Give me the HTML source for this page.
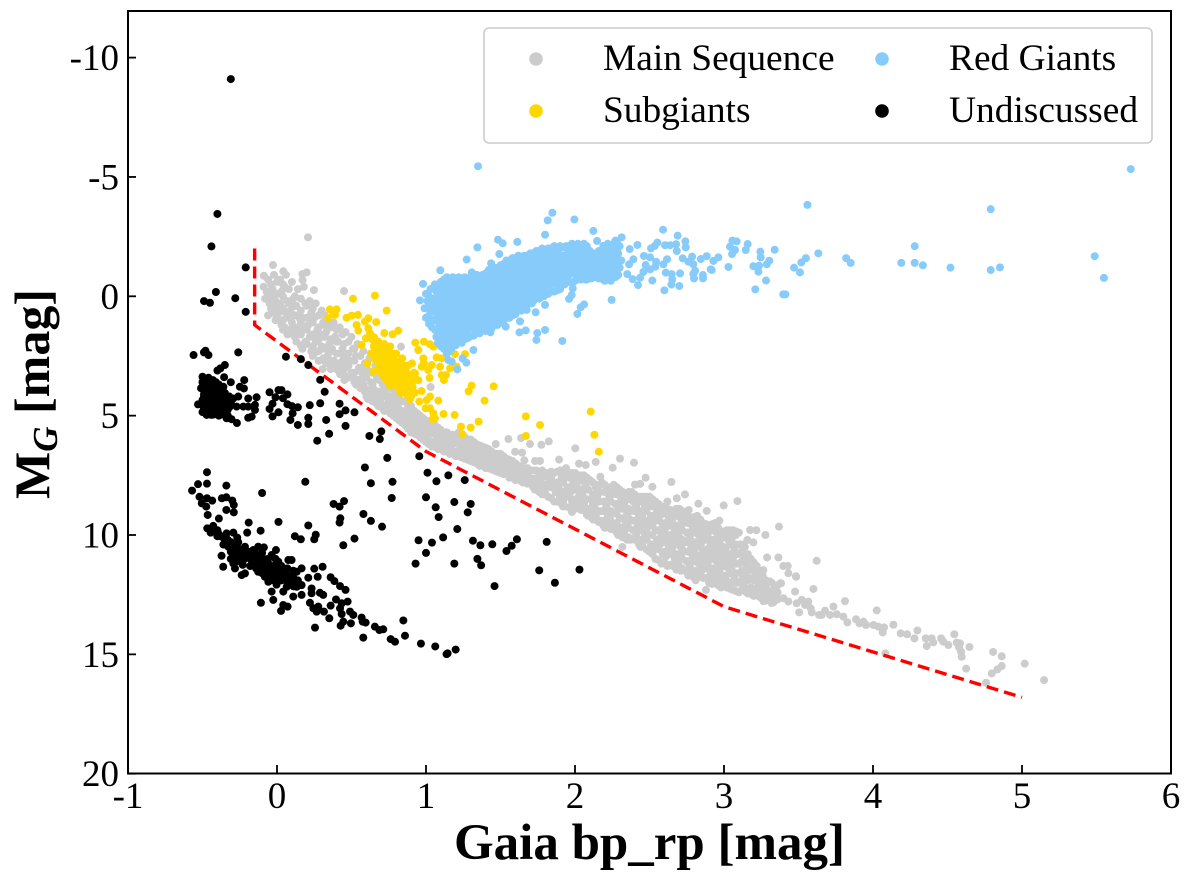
<!DOCTYPE html>
<html lang="en">
<head>
<meta charset="utf-8">
<title>Gaia colour-magnitude diagram</title>
<style>
html,body{margin:0;padding:0;background:#fff;width:1200px;height:883px;overflow:hidden}
svg{display:block}
text{font-family:"Liberation Serif","DejaVu Serif",serif;fill:#000}
</style>
</head>
<body>
<svg id="chart" width="1200" height="883" viewBox="0 0 1200 883" xmlns="http://www.w3.org/2000/svg">
<rect x="0" y="0" width="1200" height="883" fill="#fff"/>
<g id="marks-grey"></g>
<g id="marks-gold"></g>
<g id="marks-blue"></g>
<path id="cut-line" fill="none" stroke="#ff0000" stroke-width="3.4" stroke-dasharray="12,6"/>
<g id="marks-black"></g>
<rect x="128" y="11" width="1043" height="762.5" fill="none" stroke="#000" stroke-width="2"/>
<g id="ticks"></g>
<text x="649.5" y="859" text-anchor="middle" font-weight="bold" font-size="51">Gaia bp_rp [mag]</text>
<text transform="translate(49,394) rotate(-90)" text-anchor="middle" font-weight="bold" font-size="50">M<tspan font-style="italic" font-size="35" dy="8">G</tspan><tspan dy="-8"> [mag]</tspan></text>
<g>
<rect x="484" y="28" width="668" height="115" rx="5" ry="5" fill="#fff" fill-opacity="0.8" stroke="#ccc" stroke-width="1.6"/>
<circle cx="536" cy="59" r="6.8" fill="#cccccc"/>
<text x="603" y="70" font-size="37.4">Main Sequence</text>
<circle cx="536" cy="111" r="6.8" fill="#ffd700"/>
<text x="603" y="122" font-size="37.4">Subgiants</text>
<circle cx="882" cy="59" r="6.8" fill="#87cbfa"/>
<text x="949" y="70" font-size="37.4">Red Giants</text>
<circle cx="882" cy="111" r="6.8" fill="#000"/>
<text x="949" y="122" font-size="37.4">Undiscussed</text>
</g>
</svg>
<script>
const xTickValues=[-1,0,1,2,3,4,5,6];
const xTickLabels=["-1","0","1","2","3","4","5","6"];
const yTickValues=[-10,-5,0,5,10,15,20];
const yTickLabels=["-10","-5","0","5","10","15","20"];
const cutLineColour=[-0.15,-0.15,1,3,5];
const cutLineMag=[-2,1.2,6.5,13,16.8];

const mainSequence=[
[-0.09,-0.4],[-0.08,0.1],[-0.06,-0.7],[-0.07,-0.2],[-0.05,0.3],[-0.06,0.8],[-0.02,-0.9],[-0.03,-0.3],[-0.01,0.2],[-0.02,0.7],[-0.01,1.0],
[0.02,-0.7],[0.03,-0.2],[0.02,0.3],[0.01,0.7],[0.03,1.2],[0.06,-0.9],[0.05,-0.4],[0.07,0.2],[0.06,0.7],[0.05,1.3],[0.07,1.6],
[0.1,-0.6],[0.11,0.1],[0.09,0.6],[0.1,1.1],[0.11,1.6],[0.14,-0.3],[0.13,0.4],[0.15,0.9],[0.14,1.4],[0.13,1.9],[0.18,-0.4],[0.19,0.3],[0.17,0.9],[0.18,1.3],[0.19,1.9],[0.17,2.2],
[0.22,0.2],[0.23,0.7],[0.21,1.2],[0.22,1.7],[0.23,2.3],[0.26,0.3],[0.25,0.9],[0.27,1.4],[0.26,1.9],[0.25,2.4],[0.3,0.6],[0.31,1.1],[0.29,1.6],[0.3,2.1],[0.31,2.6],
[0.34,1.0],[0.33,1.5],[0.35,2.0],[0.34,2.5],[0.33,2.8],[0.38,1.1],[0.39,1.7],[0.37,2.2],[0.38,2.7],[0.39,3.0],[0.42,1.3],[0.41,1.9],[0.43,2.4],[0.42,2.9],[0.41,3.1],
[0.46,1.5],[0.45,2.0],[0.47,2.5],[0.46,3.0],[0.45,3.3],[0.5,1.7],[0.51,2.2],[0.49,2.7],[0.5,3.2],[0.51,3.4],[0.54,2.0],[0.53,2.5],[0.55,3.0],[0.54,3.5],[0.53,3.7],
[0.58,2.3],[0.59,2.8],[0.57,3.2],[0.58,3.7],[0.59,4.0],[0.62,2.6],[0.61,3.1],[0.63,3.6],[0.62,4.0],[0.61,4.3],[0.66,2.9],[0.67,3.4],[0.65,3.9],[0.66,4.3],[0.67,4.5],
[0.7,3.3],[0.71,3.7],[0.69,4.1],[0.7,4.5],[0.71,4.7],[0.74,3.6],[0.73,4.0],[0.75,4.4],[0.74,4.8],[0.78,3.9],[0.79,4.3],[0.77,4.7],[0.78,5.0],[0.82,4.2],[0.81,4.6],[0.83,5.0],[0.82,5.2],
[0.86,4.4],[0.87,4.8],[0.85,5.1],[0.86,5.4],[0.9,4.6],[0.89,5.0],[0.91,5.4],[0.9,5.7],[0.94,4.9],[0.95,5.2],[0.93,5.5],[0.94,5.8],[0.98,5.1],[0.97,5.4],[0.99,5.7],[0.98,6.0],
[1.02,5.3],[1.03,5.6],[1.01,5.9],[1.02,6.2],[1.06,5.4],[1.05,5.7],[1.07,6.0],[1.06,6.3],[1.1,5.6],[1.11,5.9],[1.09,6.2],[1.1,6.4],[1.14,5.7],[1.13,6.0],[1.15,6.3],[1.14,6.5],
[1.18,5.8],[1.19,6.1],[1.17,6.4],[1.18,6.6],[1.22,5.7],[1.21,6.0],[1.23,6.3],[1.22,6.7],[1.26,5.9],[1.27,6.2],[1.25,6.5],[1.26,6.8],[1.3,6.0],[1.29,6.3],[1.31,6.6],[1.3,6.9],
[1.34,6.2],[1.35,6.5],[1.33,6.8],[1.34,7.0],[1.38,6.3],[1.37,6.6],[1.39,6.9],[1.38,7.1],[1.42,6.4],[1.43,6.7],[1.41,7.0],[1.42,7.2],[1.46,6.6],[1.45,6.9],[1.47,7.1],[1.46,7.3],
[1.5,6.6],[1.51,6.9],[1.49,7.2],[1.5,7.4],[1.54,6.8],[1.53,7.1],[1.55,7.4],[1.58,6.9],[1.59,7.2],[1.57,7.5],[1.58,7.6],[1.62,7.1],[1.61,7.4],[1.63,7.7],[1.66,7.2],[1.67,7.5],[1.65,7.8],
[1.7,7.3],[1.69,7.6],[1.71,7.9],[1.74,7.3],[1.75,7.7],[1.73,8.1],[1.78,7.3],[1.77,7.7],[1.79,8.1],[1.78,8.3],[1.82,7.4],[1.83,7.7],[1.81,8.0],[1.82,8.4],[1.86,7.4],[1.85,7.8],[1.87,8.2],[1.86,8.6],
[1.9,7.3],[1.91,7.6],[1.89,8.0],[1.9,8.4],[1.91,8.7],[1.94,7.2],[1.93,7.6],[1.95,8.0],[1.94,8.4],[1.93,8.8],[1.98,7.4],[1.99,7.8],[1.97,8.2],[1.98,8.6],[1.99,8.9],
[2.02,7.5],[2.01,7.9],[2.03,8.3],[2.02,8.7],[2.06,7.5],[2.07,7.9],[2.05,8.3],[2.06,8.7],[2.07,9.0],[2.1,7.7],[2.09,8.1],[2.11,8.5],[2.1,8.9],[2.09,9.2],[2.14,8.0],[2.15,8.4],[2.13,8.8],[2.14,9.2],[2.15,9.4],
[2.18,7.8],[2.17,8.2],[2.19,8.6],[2.18,9.0],[2.17,9.4],[2.19,9.6],[2.22,8.0],[2.23,8.4],[2.21,8.8],[2.22,9.2],[2.23,9.6],[2.26,7.9],[2.25,8.3],[2.27,8.7],[2.26,9.1],[2.25,9.5],[2.27,9.8],
[2.3,8.1],[2.31,8.5],[2.29,8.9],[2.3,9.3],[2.31,9.7],[2.29,10.0],[2.34,8.3],[2.33,8.7],[2.35,9.1],[2.34,9.5],[2.33,9.9],[2.35,10.2],[2.38,8.2],[2.39,8.6],[2.37,9.0],[2.38,9.4],[2.39,9.8],[2.37,10.2],
[2.42,8.4],[2.41,8.8],[2.43,9.2],[2.42,9.6],[2.41,10.0],[2.43,10.4],[2.46,8.4],[2.47,8.8],[2.45,9.2],[2.46,9.6],[2.47,10.0],[2.45,10.4],[2.5,8.4],[2.49,8.8],[2.51,9.2],[2.5,9.6],[2.49,10.0],[2.51,10.4],[2.5,10.7],
[2.54,8.6],[2.55,9.0],[2.53,9.4],[2.54,9.8],[2.55,10.2],[2.53,10.6],[2.54,11.0],[2.58,8.8],[2.57,9.2],[2.59,9.6],[2.58,10.0],[2.57,10.4],[2.59,10.8],[2.58,11.2],[2.62,8.9],[2.63,9.3],[2.61,9.7],[2.62,10.1],[2.63,10.5],[2.61,10.9],[2.62,11.3],
[2.66,9.0],[2.65,9.4],[2.67,9.8],[2.66,10.2],[2.65,10.6],[2.67,11.0],[2.66,11.3],[2.7,8.9],[2.71,9.3],[2.69,9.7],[2.7,10.1],[2.71,10.5],[2.69,10.9],[2.7,11.3],[2.71,11.5],[2.74,9.1],[2.73,9.5],[2.75,9.9],[2.74,10.3],[2.73,10.7],[2.75,11.1],[2.74,11.5],
[2.78,9.3],[2.79,9.7],[2.77,10.1],[2.78,10.5],[2.79,10.9],[2.77,11.3],[2.78,11.7],[2.82,9.2],[2.81,9.6],[2.83,10.0],[2.82,10.4],[2.81,10.8],[2.83,11.2],[2.82,11.6],[2.81,11.9],[2.86,9.5],[2.87,9.9],[2.85,10.3],[2.86,10.7],[2.87,11.1],[2.85,11.5],[2.86,11.8],
[2.9,9.6],[2.89,10.0],[2.91,10.4],[2.9,10.8],[2.89,11.2],[2.91,11.6],[2.9,12.0],[2.94,9.5],[2.95,9.9],[2.93,10.3],[2.94,10.7],[2.95,11.1],[2.93,11.5],[2.94,11.9],[2.98,9.9],[2.97,10.3],[2.99,10.7],[2.98,11.1],[2.97,11.5],[2.99,11.9],[2.98,12.2],
[3.02,9.8],[3.03,10.2],[3.01,10.6],[3.02,11.0],[3.03,11.4],[3.01,11.8],[3.02,12.2],[3.06,9.8],[3.05,10.2],[3.07,10.6],[3.06,11.0],[3.05,11.4],[3.07,11.8],[3.06,12.3],[3.1,9.9],[3.11,10.4],[3.09,10.8],[3.1,11.2],[3.11,11.6],[3.09,12.0],[3.1,12.4],
[3.14,10.5],[3.13,10.9],[3.15,11.3],[3.14,11.7],[3.13,12.1],[3.15,12.4],[3.18,11.0],[3.19,11.4],[3.17,11.8],[3.18,12.2],[3.19,12.5],[3.22,11.3],[3.21,11.7],[3.23,12.1],[3.22,12.5],[3.26,11.7],[3.25,12.1],[3.27,12.5],[3.26,12.7],
[0.208,-2.47],[-0.027,-1.31],[0.042,-1.05],[-0.088,-0.86],[0.199,-1.0],[0.17,-0.93],[0.172,-0.68],[0.45,-0.22],[0.248,-0.26],[0.832,2.11],[1.031,3.8],[0.306,3.05],[0.423,3.26],[0.452,3.51],
[1.468,6.19],[1.553,5.98],[1.638,5.94],[1.698,6.19],[1.774,6.22],[1.824,6.08],[1.598,6.51],[1.645,6.55],[1.66,6.87],[1.732,6.9],[1.765,6.9],[1.893,6.84],[2.002,6.37],[2.027,7.01],[2.072,7.07],[2.139,6.94],[2.302,6.8],[2.396,6.97],[2.253,7.18],[2.17,7.56],[2.474,7.6],[2.647,7.78],[2.519,7.98],[2.403,7.89],[2.437,7.86],[2.738,8.3],[2.683,8.46],[2.62,8.6],[2.828,8.69],[3.09,8.58],[2.998,8.76],[2.884,8.99],[2.763,8.95],[2.969,9.4],[3.369,9.65],[3.175,9.79],[3.217,9.8],[3.278,10.0],[3.157,10.21],[3.197,10.31],[3.289,10.94],[3.365,10.94],[3.622,11.08],[3.398,11.3],[3.428,11.3],[3.432,11.6],[3.483,11.73],[3.271,11.86],[3.309,11.95],[3.38,12.02],[3.477,12.37],[3.6,12.26],[2.879,12.3],[1.98,9.04],[2.318,10.5],[3.638,13.35],
[3.269,11.88],[3.305,11.95],[3.383,12.02],[3.484,11.75],[3.264,11.47],[3.253,12.23],[3.287,12.3],[3.331,12.3],[3.264,12.77],[3.331,12.82],[3.3,12.44],[3.354,12.44],[3.399,12.65],[3.432,12.79],[3.488,12.86],[3.522,12.72],[3.566,12.79],[3.544,12.93],[3.504,13.24],[3.589,13.24],[3.582,13.07],
[3.812,12.77],[3.734,13.0],[4.025,13.16],[3.678,13.17],[3.656,13.35],[3.712,13.35],[3.757,13.32],[3.801,13.42],[3.828,13.66],[3.886,13.53],[3.909,13.7],[3.936,13.63],[3.953,13.77],[4.003,13.77],[4.036,13.84],[4.074,13.87],[4.065,14.08],[4.137,13.76],[4.186,14.12],[4.229,14.16],[4.278,14.33],[4.298,14.0],[4.354,14.33],[4.394,14.33],[4.361,14.65],[4.405,14.5],[4.457,14.33],[4.472,14.47],[4.506,14.61],[4.546,14.16],[4.562,14.51],[4.584,14.54],[4.578,14.71],[4.647,14.69],[4.591,14.89],[4.595,15.1],[4.625,15.6],[4.806,14.9],[4.864,15.08],[5.018,15.39],[5.148,16.08],[4.864,15.49],[4.835,15.63],[4.797,15.8],[4.759,16.19],[4.083,14.96]
];

/* Dense-core stars: each row is one colour followed by the magnitudes read at that colour. */
const mainSequenceCoreRows=[
[-0.04,-0.5,0,0.5],[0,-0.6,-0.1,0.4,0.9],[0.04,-0.5,0,0.5,1,1.4],[0.08,-0.3,0.3,0.9,1.4],[0.12,0,0.4,0.8,1.3,1.7],[0.16,0.1,0.6,1.1,1.6,2.05],[0.2,0.4,0.9,1.4,2],[0.24,0.5,1.1,1.6,2.1,2.5],[0.28,0.8,1.3,1.8,2.3,2.7],[0.32,0.8,1.2,1.7,2.2,2.7],
[0.36,1.3,1.8,2.3,2.8,3.05],[0.4,1.4,1.9,2.4,2.8,3.05],[0.44,1.6,2.2,2.7,3.2],[0.48,1.9,2.4,2.9,3.4],[0.52,2.2,2.7,3.2,3.6],[0.56,2.5,3,3.5,3.85],[0.6,2.9,3.4,3.9,4.2],[0.64,3.2,3.7,4.1,4.4],[0.68,3.5,4,4.4,4.6],[0.72,3.8,4.2,4.6,4.8],
[0.76,4.2,4.6,4.9],[0.8,4.1,4.5,4.85,5.1],[0.84,4.4,4.8,5.1,5.3],[0.88,4.6,5,5.3,5.55],[0.92,4.8,5.1,5.45,5.75],[0.96,5,5.3,5.6,5.9],[1,5.2,5.5,5.8,6.1],[1.04,5.4,5.75,6.1,6.3],[1.08,5.5,5.8,6.1,6.4],[1.12,5.75,6.05,6.35,6.5],
[1.16,5.85,6.15,6.45,6.6],[1.2,5.85,6.15,6.5,6.7],[1.24,5.85,6.1,6.4,6.75],[1.28,6,6.3,6.6,6.85],[1.32,6.1,6.4,6.7,6.95],[1.36,6.25,6.55,6.85,7.1],[1.4,6.35,6.65,6.95,7.2],[1.44,6.5,6.8,7.05,7.25],[1.48,6.6,6.85,7.15,7.35],[1.52,6.7,7,7.3,7.45],
[1.56,6.85,7.15,7.45,7.6],[1.6,7,7.3,7.55,7.7],[1.64,7.15,7.45,7.75],[1.68,7.2,7.55,7.85],[1.72,7.3,7.65,8],[1.76,7.35,7.5,7.9,8.2],[1.8,7.4,7.55,7.9,8.25],[1.84,7.35,7.6,8,8.45],[1.88,7.35,7.8,8.2,8.6],[1.92,7.3,7.8,8.2,8.6,8.8],
[1.96,7.4,7.6,8,8.4,8.85],[2,7.4,7.7,8.1,8.5,8.9],[2.04,7.5,7.7,8.1,8.5,8.95],[2.08,7.6,8.1,8.5,8.9,9.15],[2.12,7.8,8.3,8.7,9.1,9.35],[2.16,7.9,8.2,8.6,9,9.45],[2.2,7.9,8.2,8.6,9,9.4,9.7],[2.24,8,8.2,8.6,9,9.4,9.75],[2.28,8,8.3,8.7,9.1,9.5,9.9],[2.32,8.2,8.5,8.9,9.3,9.7,10.1],
[2.36,8.2,8.5,8.9,9.3,9.7,10.1],[2.4,8.3,8.6,9,9.4,9.8,10.2],[2.44,8.4,8.6,9,9.4,9.8,10.2,10.5],[2.48,8.4,8.6,9,9.4,9.8,10.2,10.6],[2.52,8.5,8.8,9.2,9.6,10,10.4,10.8],[2.56,8.7,9,9.4,9.8,10.2,10.6,11.05],[2.6,8.85,9.1,9.5,9.9,10.3,10.7,11.15],[2.64,8.95,9.2,9.6,10,10.4,10.8,11.25],[2.68,8.9,9.2,9.6,10,10.4,10.8,11.2,11.45],[2.72,9,9.4,9.8,10.2,10.6,11,11.4],
[2.76,9.2,9.5,9.9,10.3,10.7,11.1,11.5,11.7],[2.8,9.25,9.5,9.9,10.3,10.7,11.1,11.5,11.8],[2.84,9.35,9.7,10.1,10.5,10.9,11.3,11.7],[2.88,9.55,9.8,10.2,10.6,11,11.4,11.8],[2.92,9.55,9.8,10.2,10.6,11,11.4,11.8,12.05],[2.96,9.7,10.1,10.5,10.9,11.3,11.7,12.1],[3,9.85,10.1,10.5,10.9,11.3,11.7,12.1],[3.04,9.8,10,10.4,10.8,11.2,11.6,12,12.25],[3.08,9.85,10,10.4,10.8,11.2,11.6,12,12.35],[3.12,10.4,10.7,11.1,11.5,11.9,12.3],
[3.16,10.8,11.1,11.5,11.9,12.3,12.45],[3.2,11.15,11.5,11.9,12.3,12.55],[3.24,11.5,11.9,12.3,12.6],[3.28,11.9,12.2,12.6,12.75],[3.32,12,12.4,12.6,12.85],[3.36,12.1,12.4,12.7]
];

const subgiants=[
[0.51,0.1],[0.657,-0.03],[0.736,0.6],[0.355,0.55],[0.4,0.55],[0.389,0.78],[0.344,0.92],[0.378,0.71],[0.467,0.9],[0.501,0.81],[0.543,0.78],[0.613,0.92],[0.59,1.06],[0.534,1.2],[0.666,1.08],[0.546,1.44],[0.613,1.34],[0.624,1.55],[0.72,1.54],[0.776,1.59],[0.814,1.44],[0.597,1.76],[0.568,2.04],[0.651,1.72],
[0.928,1.94],[0.986,1.9],[0.948,2.25],[1.027,2.01],[1.05,2.11],[0.606,2.81],[1.306,3.74],[1.286,3.98],[1.454,3.77],[1.393,4.37],[1.192,4.97],[1.118,4.93],[1.083,4.37],[1.027,4.2],[1.004,4.35],[0.955,4.41],[0.97,3.97],[0.926,4.04],[0.892,4.32],[1.024,3.42],[0.998,4.69],[1.027,4.69],[1.05,4.9],[1.06,5.11],[1.044,5.15],[1.235,5.46],[1.3,5.5],[1.353,5.25],[1.244,5.78],
[0.906,2.81],[0.982,2.6],[0.986,2.81],[1.071,2.56],[1.105,2.6],[1.038,2.88],[1.015,3.09],[0.971,2.95],[0.926,3.23],[0.948,3.51],[1.094,2.95],[1.105,3.3],[1.134,3.3],[1.12,3.51],[1.161,3.02],[1.205,2.95],[1.262,2.42],[1.194,2.42],
[1.67,5.03],[1.765,5.39],[1.67,5.85],[2.105,4.83],[2.13,5.8],[2.16,6.51],
[0.64,1.8],[0.65,2.1],[0.63,2.4],[0.68,1.9],[0.69,2.2],[0.67,2.5],[0.68,2.8],[0.72,2.0],[0.71,2.3],[0.73,2.6],[0.72,2.9],[0.76,2.1],[0.77,2.4],[0.75,2.7],[0.76,3.0],[0.77,3.3],[0.8,2.4],[0.79,2.7],[0.81,3.0],[0.8,3.3],[0.79,3.6],[0.84,2.6],[0.85,2.9],[0.83,3.2],[0.84,3.5],[0.85,3.8],[0.88,2.9],[0.87,3.2],[0.89,3.5],[0.88,3.8],[0.87,4.1],[0.92,3.2],[0.93,3.5],[0.91,3.8],
[0.646,3.16],[0.7,3.2],[0.72,3.4],[0.78,3.7],[0.82,3.9],[0.68,3.05],[0.74,3.55],[0.76,3.75],[0.83,4.05]
];

const subgiantCoreRows=[
[0.66,1.95,2.3,2.65],[0.7,2.1,2.45,2.75,3.05],[0.74,2.25,2.55,2.85,3.15],[0.78,2.55,2.85,3.15,3.5],[0.82,2.75,3.05,3.35,3.7],[0.86,3.05,3.35,3.65,3.95],[0.9,3.35,3.65,3.95,4.2]
];

const redGiants=[
[1.349,-5.45],[1.848,-3.5],[1.817,-3.18],[1.996,-3.22],[2.123,-2.74],[1.799,-2.58],[1.483,-2.37],[1.515,-2.22],[1.613,-2.28],[1.345,-2.05],[1.492,-1.77],[1.273,-1.54],[1.437,-1.38],[1.096,-1.09],[1.307,-1.0],[0.98,-0.52],[1.052,-0.38],[0.96,0.17],
[2.591,-2.79],[2.689,-2.54],[2.741,-2.3],[2.743,-2.05],[2.553,-2.25],[2.535,-2.11],[2.51,-2.01],[2.604,-2.14],[2.638,-2.14],[2.678,-2.18],[2.683,-1.9],[2.419,-2.15],[2.367,-1.98],[2.313,-2.47],[2.271,-2.33],[2.148,-2.32],[2.19,-2.11],
[3.56,-3.83],[3.633,-1.8],[3.056,-2.33],[3.085,-2.3],[3.04,-2.08],[3.074,-1.94],[3.054,-1.77],[3.159,-2.19],[3.146,-1.94],[3.34,-1.95],[3.244,-1.87],[3.246,-1.63],[3.304,-1.49],[3.287,-1.34],[3.197,-1.26],[3.235,-1.28],[3.231,-1.03],[3.47,-1.2],[3.519,-1.42],[3.51,-1.0],[3.282,-0.66],[3.21,-0.29],[3.398,-0.08],[3.412,-0.08],[3.03,-1.23],[2.918,-1.1],[2.911,-1.13],[2.962,-1.63],[2.929,-1.48],[2.884,-1.68],[2.844,-1.56],[2.786,-1.66],[2.723,-1.59],[2.761,-1.45],[2.794,-1.34],[2.806,-1.07],[2.794,-0.93],[2.799,-0.75],[2.859,-0.89],[2.859,-0.75],[2.705,-0.96],[2.7,-0.43],[2.649,-0.93],[2.609,-0.99],[2.653,-0.71],[2.647,-0.49],[2.6,-0.25],[2.519,-0.66],[2.423,-0.47],[2.618,-1.55],[2.593,-1.34],[2.544,-1.45],[2.539,-1.24],[2.504,-1.63],[2.463,-1.69],[2.474,-1.31],[2.504,-1.13],[2.459,-1.02],[2.437,-0.78],[2.392,-1.55],[2.363,-1.34],[2.351,-0.93],[2.387,-0.72],[2.246,0.15],
[2.016,0.74],[2.038,0.46],[2.061,0.34],[1.96,0.11],[1.978,-0.05],[1.985,-0.33],[1.799,0.36],[1.736,0.67],[1.676,0.57],[1.631,1.05],[1.535,1.27],[1.627,1.51],[1.669,1.43],[1.747,1.54],[1.799,1.41],[1.741,1.83],[1.915,1.87],[1.432,1.51],[1.318,2.25],[1.271,2.78],[1.246,2.6],[1.21,3.06],[1.173,2.74],[1.15,2.67],
[5.73,-5.33],[5.488,-1.68],[5.55,-0.77],[4.852,-1.21],[4.79,-3.65],[4.79,-1.1],[4.52,-1.2],[4.335,-1.3],[4.28,-2.1],[4.28,-1.4],[4.19,-1.4],[3.85,-1.4],[3.82,-1.6],[3.55,-1.6],
[1.0,-0.1],[1.01,0.2],[0.99,0.5],[1.0,0.9],[1.03,-0.3],[1.02,0.0],[1.04,0.3],[1.03,0.6],[1.02,1.0],[1.04,1.3],[1.06,-0.5],[1.07,-0.2],[1.05,0.1],[1.06,0.4],[1.07,0.7],[1.05,1.0],[1.06,1.4],[1.07,1.7],
[1.1,-0.6],[1.09,-0.3],[1.11,0.0],[1.1,0.3],[1.09,0.6],[1.11,0.9],[1.1,1.2],[1.09,1.5],[1.11,1.8],[1.1,2.1],[1.14,-0.8],[1.15,-0.5],[1.13,-0.2],[1.14,0.1],[1.15,0.4],[1.13,0.7],[1.14,1.0],[1.15,1.3],[1.13,1.6],[1.14,1.9],[1.15,2.2],[1.14,2.4],
[1.18,-0.8],[1.17,-0.5],[1.19,-0.2],[1.18,0.1],[1.17,0.4],[1.19,0.7],[1.18,1.0],[1.17,1.3],[1.19,1.6],[1.18,1.9],[1.17,2.2],[1.22,-0.8],[1.23,-0.5],[1.21,-0.2],[1.22,0.1],[1.23,0.4],[1.21,0.7],[1.22,1.0],[1.23,1.3],[1.21,1.6],[1.22,1.9],
[1.26,-0.8],[1.25,-0.5],[1.27,-0.2],[1.26,0.1],[1.25,0.4],[1.27,0.7],[1.26,1.0],[1.25,1.3],[1.27,1.6],[1.26,1.8],[1.3,-0.8],[1.31,-0.5],[1.29,-0.2],[1.3,0.1],[1.31,0.4],[1.29,0.7],[1.3,1.0],[1.31,1.3],[1.29,1.7],
[1.34,-0.9],[1.33,-0.6],[1.35,-0.3],[1.34,0.0],[1.33,0.3],[1.35,0.6],[1.34,0.9],[1.33,1.2],[1.35,1.5],[1.38,-0.9],[1.39,-0.6],[1.37,-0.3],[1.38,0.0],[1.39,0.3],[1.37,0.6],[1.38,0.9],[1.39,1.2],[1.38,1.4],
[1.42,-1.1],[1.41,-0.8],[1.43,-0.5],[1.42,-0.2],[1.41,0.1],[1.43,0.4],[1.42,0.7],[1.41,1.0],[1.43,1.3],[1.46,-1.2],[1.47,-0.9],[1.45,-0.6],[1.46,-0.3],[1.47,0.0],[1.45,0.3],[1.46,0.6],[1.47,0.9],[1.46,1.2],
[1.5,-1.3],[1.49,-1.0],[1.51,-0.7],[1.5,-0.4],[1.49,-0.1],[1.51,0.2],[1.5,0.5],[1.49,0.8],[1.51,1.1],[1.54,-1.5],[1.55,-1.2],[1.53,-0.9],[1.54,-0.6],[1.55,-0.3],[1.53,0.0],[1.54,0.3],[1.55,0.6],[1.53,0.9],
[1.58,-1.6],[1.57,-1.3],[1.59,-1.0],[1.58,-0.7],[1.57,-0.4],[1.59,-0.1],[1.58,0.2],[1.57,0.5],[1.58,0.8],[1.62,-1.7],[1.63,-1.4],[1.61,-1.1],[1.62,-0.8],[1.63,-0.5],[1.61,-0.2],[1.62,0.1],[1.63,0.4],[1.62,0.6],
[1.66,-1.7],[1.65,-1.4],[1.67,-1.1],[1.66,-0.8],[1.65,-0.5],[1.67,-0.2],[1.66,0.1],[1.65,0.4],[1.7,-1.8],[1.71,-1.5],[1.69,-1.2],[1.7,-0.9],[1.71,-0.6],[1.69,-0.3],[1.7,0.0],[1.71,0.3],
[1.74,-1.9],[1.73,-1.6],[1.75,-1.3],[1.74,-1.0],[1.73,-0.7],[1.75,-0.4],[1.74,-0.1],[1.78,-2.0],[1.79,-1.7],[1.77,-1.4],[1.78,-1.1],[1.79,-0.8],[1.77,-0.5],[1.78,-0.2],[1.79,0.0],
[1.82,-2.0],[1.81,-1.7],[1.83,-1.4],[1.82,-1.1],[1.81,-0.8],[1.83,-0.5],[1.82,-0.1],[1.86,-2.1],[1.87,-1.8],[1.85,-1.5],[1.86,-1.2],[1.87,-0.9],[1.85,-0.6],[1.86,-0.2],
[1.9,-2.1],[1.89,-1.8],[1.91,-1.5],[1.9,-1.2],[1.89,-0.9],[1.91,-0.6],[1.9,-0.3],[1.94,-2.1],[1.95,-1.8],[1.93,-1.5],[1.94,-1.2],[1.95,-0.9],[1.93,-0.5],
[1.98,-2.2],[1.97,-1.9],[1.99,-1.6],[1.98,-1.3],[1.97,-1.0],[1.99,-0.6],[2.02,-2.2],[2.03,-1.9],[2.01,-1.6],[2.02,-1.3],[2.03,-1.0],[2.01,-0.7],
[2.06,-2.2],[2.05,-1.9],[2.07,-1.6],[2.06,-1.3],[2.05,-1.0],[2.07,-0.7],[2.1,-1.9],[2.11,-1.6],[2.09,-1.3],[2.1,-1.0],[2.11,-0.75],[2.14,-1.6],[2.13,-1.3],[2.15,-1.0],[2.14,-0.8],
[2.18,-1.8],[2.19,-1.5],[2.17,-1.2],[2.18,-0.9],[2.19,-0.7],[2.22,-2.2],[2.23,-1.9],[2.21,-1.6],[2.22,-1.3],[2.23,-1.0],[2.21,-0.7],[2.26,-2.2],[2.25,-1.9],[2.27,-1.6],[2.26,-1.3],[2.25,-1.0],[2.27,-0.8],[2.3,-2.1],[2.29,-1.8],[2.31,-1.5],[2.3,-1.2],[2.29,-0.9]
];

const redGiantCoreRows=[
[1.02,0.15,0.45,0.8,1.15],[1.08,-0.45,-0.15,0.15,0.45,0.75,1.05,1.35,1.65,1.95],[1.12,-0.7,-0.4,-0.1,0.2,0.5,0.8,1.1,1.4,1.7,2,2.2],[1.16,-0.7,-0.35,-0.05,0.25,0.55,0.85,1.15,1.45,1.75,2.05,2.3],[1.2,-0.65,-0.35,-0.05,0.25,0.55,0.85,1.15,1.45,1.75,2.05],[1.24,-0.65,-0.35,-0.05,0.25,0.55,0.85,1.15,1.45,1.75,1.95],[1.28,-0.65,-0.35,-0.05,0.25,0.55,0.85,1.15,1.45,1.75],[1.32,-0.75,-0.45,-0.15,0.15,0.45,0.75,1.05,1.35,1.65],[1.36,-0.75,-0.45,-0.15,0.15,0.45,0.75,1.05,1.35,1.55],
[1.4,-0.95,-0.6,-0.3,0,0.3,0.6,0.9,1.2,1.45],[1.44,-1.05,-0.75,-0.45,-0.15,0.15,0.45,0.75,1.05,1.35],[1.48,-1.15,-0.85,-0.55,-0.25,0.05,0.35,0.65,0.95,1.2],[1.52,-1.35,-1.05,-0.75,-0.45,-0.15,0.15,0.45,0.75,1.05],[1.56,-1.5,-1.15,-0.85,-0.55,-0.25,0.05,0.35,0.65,0.9],[1.6,-1.6,-1.3,-1,-0.7,-0.4,-0.1,0.2,0.5,0.75],[1.64,-1.65,-1.35,-1.05,-0.75,-0.45,-0.15,0.15,0.45,0.6],[1.68,-1.7,-1.4,-1.1,-0.8,-0.5,-0.2,0.1,0.35],[1.72,-1.8,-1.5,-1.2,-0.9,-0.6,-0.3,0,0.2],
[1.76,-1.9,-1.6,-1.3,-1,-0.7,-0.4,-0.1,0.1],[1.8,-1.95,-1.6,-1.3,-1,-0.7,-0.4,-0.1],[1.84,-2,-1.7,-1.4,-1.1,-0.8,-0.5,-0.2],[1.88,-2.05,-1.7,-1.4,-1.1,-0.8,-0.5,-0.25],[1.92,-2.05,-1.7,-1.4,-1.1,-0.8,-0.5],[1.96,-2.1,-1.8,-1.5,-1.2,-0.9,-0.6],[2,-2.15,-1.85,-1.55,-1.25,-0.95,-0.65],[2.04,-2.15,-1.85,-1.55,-1.25,-0.95,-0.7],[2.08,-2.1,-1.8,-1.5,-1.2,-0.9,-0.7],[2.12,-1.8,-1.5,-1.2,-0.9],
[2.16,-1.9,-1.6,-1.3,-1,-0.75],[2.2,-2.1,-1.8,-1.5,-1.2,-0.9,-0.65],[2.24,-2.1,-1.8,-1.5,-1.2,-0.9,-0.65],[2.28,-2.3,-2,-1.7,-1.4,-1.1,-0.85]
];

const undiscussed=[
[-0.31,-9.1],[-0.4,-3.45],[-0.44,-2.09],[-0.21,-1.21],[-0.41,-0.18],[-0.49,0.2],[-0.45,0.27],[-0.28,0.08],[-0.21,0.65],[-0.56,2.46],[-0.49,2.35],[-0.48,2.28],[-0.46,2.46],[-0.26,2.35],[0.06,2.53],[0.16,2.63],[0.21,2.88],[0.29,3.5],[0.32,4.0],[0.29,4.48],[0.22,4.56],[0.42,4.5],[0.46,4.78],[0.42,4.94],[0.52,4.86],[0.46,5.43],[0.33,5.18],[0.21,5.09],[0.21,5.35],[0.14,5.39],[0.09,5.18],[0.35,5.76],[0.27,6.05],[0.62,5.85],[0.7,5.66],[0.69,5.98],
[-0.35,2.88],[-0.38,3.02],[-0.4,3.11],[-0.5,3.37],[-0.46,3.41],[-0.43,3.51],[-0.355,3.39],[-0.22,3.51],[-0.31,3.6],
[-0.05,4.02],[0.01,3.93],[0.03,3.93],[0.07,4.11],[-0.01,4.23],[0.04,4.27],[-0.03,4.5],[0.07,4.52],[0.01,4.86],[-0.03,5.03],[-0.05,4.72],[0.1,4.6],[0.14,4.65],[0.105,4.9],
[-0.53,4.53],[-0.137,4.23],[-0.148,4.55],[-0.148,4.76],[-0.17,5.04],[-0.193,5.09],[-0.269,5.31],[-0.305,5.15],[-0.338,5.11],[-0.44,4.97],[-0.472,4.97],[-0.193,4.28],[-0.249,3.79],[-0.222,3.86],[-0.26,4.2],[-0.293,4.28],[-0.226,4.62],[-0.193,4.62],[-0.271,4.62],[-0.316,4.62],[-0.36,3.79],[-0.372,3.93],
[-0.5,3.6],[-0.51,3.85],[-0.49,4.1],[-0.5,4.35],[-0.49,4.6],[-0.5,4.85],[-0.47,3.55],[-0.46,3.8],[-0.48,4.05],[-0.47,4.3],[-0.46,4.55],[-0.48,4.8],[-0.44,3.65],[-0.43,3.9],[-0.45,4.15],[-0.44,4.4],[-0.43,4.65],[-0.45,4.85],[-0.41,3.6],[-0.4,3.85],[-0.42,4.1],[-0.41,4.35],[-0.4,4.6],[-0.42,4.85],[-0.38,3.9],[-0.37,4.15],[-0.39,4.4],[-0.38,4.65],[-0.37,4.9],[-0.35,4.05],[-0.34,4.3],[-0.36,4.55],[-0.35,4.8],[-0.32,4.2],[-0.31,4.45],[-0.33,4.75],
[-0.47,7.37],[-0.53,7.87],[-0.47,7.85],[-0.57,8.14],[-0.34,7.93],[-0.1,8.24],[0.19,7.77],[0.59,7.17],[0.74,6.77],[0.955,6.7],[1.01,7.39],[1.07,7.75],[1.15,7.5],[1.26,7.7],[0.63,7.83],[0.775,7.77],[0.77,8.45],[1.0,8.42],[1.065,8.84],[1.19,8.62],[1.3,8.7],[1.28,9.05],[1.085,9.25],[1.21,9.75],[1.115,10.1],[0.95,10.22],[1.04,10.32],[1.0,10.75],[0.93,11.2],[1.19,11.2],[1.315,10.24],[1.365,10.43],[1.445,10.39],[1.345,11.0],[1.37,11.27],[1.46,12.14],[1.54,10.67],[1.575,10.45],[1.61,10.18],[1.81,10.29],[1.76,11.48],[1.865,12.0],[2.03,11.45],
[0.38,8.7],[0.42,8.81],[0.45,8.58],[0.58,9.12],[0.63,9.41],[0.705,9.65],[0.425,9.3],[0.42,9.48],[0.21,9.6],[0.01,9.45],[-0.19,9.48],[-0.11,9.82],[-0.2,9.9],[0.26,9.99],[0.25,10.18],[0.12,10.05],[0.16,10.18],[0.52,10.15],[0.445,10.43],
[-0.52,8.4],[-0.505,8.67],[-0.475,8.81],[-0.465,9.16],[-0.47,8.46],[-0.435,8.56],[-0.37,8.46],[-0.34,8.42],[-0.3,8.56],[-0.29,8.74],[-0.34,8.95],[-0.29,9.05],[-0.39,9.31],
[-0.468,9.72],[-0.428,9.62],[-0.445,9.9],[-0.394,9.93],[-0.372,10.07],[-0.338,9.93],[-0.293,9.9],[-0.267,10.11],[-0.349,10.28],[-0.327,10.49],[-0.282,10.63],[-0.215,10.49],[-0.249,10.84],[-0.293,10.91],[-0.372,10.87],[-0.361,11.33],[-0.293,11.19],[-0.282,11.4],[-0.226,11.05],[-0.193,10.91],[-0.159,10.63],[-0.126,10.49],[-0.088,10.52],[-0.137,10.91],[-0.103,11.12],[-0.17,11.26],[-0.215,11.61],[-0.237,11.68],[-0.126,11.54],[-0.092,11.4],[-0.058,11.19],[-0.036,10.84],[-0.007,10.63],[0.009,11.12],[-0.003,11.4],[-0.047,11.61],[-0.081,11.75],[-0.058,11.96],[-0.025,11.89],[0.009,11.68],[0.042,11.61],[-0.003,12.08],[0.02,11.89],[0.076,11.05],[0.098,11.05],[0.132,11.54],[0.165,11.4],[0.21,11.79],[0.25,11.41],[0.306,11.33],[0.273,11.75],[0.36,11.77],[0.385,11.93],[0.423,12.14],[0.46,12.3],[0.098,11.96],[0.132,12.17],[0.165,12.1],[0.065,12.17],[-0.036,12.37],[0.042,12.37],[0.109,12.58],[0.165,12.51],[0.232,12.24],[0.232,12.44],[0.288,12.42],[0.31,12.51],[-0.108,12.84],[-0.025,12.72],[0.027,13.18],[0.042,12.93],[0.071,13.0],[0.221,12.84],[0.244,13.07],[0.277,13.0],[0.266,13.21],[0.315,13.21],[0.351,13.49],[0.36,12.96],[0.396,12.7],[0.434,12.86],[0.474,12.79],[0.423,13.07],[0.434,13.31],[0.49,13.21],[0.512,13.35],[0.568,13.46],[0.595,13.67],[0.575,13.63],[0.496,13.7],[0.445,13.63],[0.427,13.8],[0.255,13.88],[0.579,14.3],[0.657,13.84],[0.687,13.98],[0.713,13.95],[0.763,14.36],[0.792,14.47],[0.848,13.58],[0.859,14.22],[0.966,14.55],[1.062,14.67],[1.145,14.96],[1.199,14.8],[1.138,14.99],
[-0.33,10.2],[-0.3,10.45],[-0.26,10.3],[-0.25,10.6],[-0.2,10.75],[-0.17,10.85],[-0.13,11.2],[-0.09,11.0],[-0.06,11.45],[-0.02,11.3],[-0.02,11.6],[0.03,11.4],[0.02,11.75],[0.06,11.85],[0.1,11.7],[0.14,11.9]
];

const undiscussedCoreRows=[
[-0.49,3.7,3.95,4.2,4.45,4.7],[-0.455,3.65,3.9,4.2,4.45,4.7,4.9],[-0.425,3.75,4,4.25,4.5,4.75,4.95],[-0.39,3.7,4,4.25,4.5,4.75,5],[-0.36,4.2,4.45,4.7,4.95],[-0.33,4.35,4.55,5],
[-0.4,9.8,10.05],[-0.36,10.1,10.4],[-0.31,10.3,10.7,11],[-0.27,10.5,10.8,11.1],[-0.23,10.6,10.9,11.25],[-0.18,10.7,11,11.3],[-0.14,10.8,11.1,11.4],[-0.1,10.75,11,11.3,11.6],[-0.06,11,11.35,11.7],[-0.01,11,11.25,11.55,11.85],[0.03,11.3,11.6,11.9],[0.07,11.4,11.7,12.1],[0.11,11.5,11.8,12.15]
];

const svgNS='http://www.w3.org/2000/svg';
function xScale(v){return 277+149*v;}
function yScale(v){return 296.3+23.87*v;}

function addStar(group,colourIndex,mag,fill,markName){
  const el=document.createElementNS(svgNS,'circle');
  el.setAttribute('cx',xScale(colourIndex).toFixed(2));
  el.setAttribute('cy',yScale(mag).toFixed(2));
  el.setAttribute('r','4');
  el.setAttribute('fill',fill);
  
  
  group.appendChild(el);
}
function drawSeries(targetId,points,rows,fill,markName){
  const group=document.getElementById(targetId);
  points.forEach(function(p){addStar(group,p[0],p[1],fill,markName);});
  rows.forEach(function(r){
    for(let i=1;i<r.length;i++){addStar(group,r[0],r[i],fill,markName);}
  });
}
drawSeries('marks-grey',mainSequence,mainSequenceCoreRows,'#cccccc','main-sequence-star');
drawSeries('marks-gold',subgiants,subgiantCoreRows,'#ffd700','subgiant-star');
drawSeries('marks-blue',redGiants,redGiantCoreRows,'#87cbfa','red-giant-star');
drawSeries('marks-black',undiscussed,undiscussedCoreRows,'#000000','undiscussed-star');

document.getElementById('cut-line').setAttribute('d',cutLineColour.map(function(c,i){
  return (i?'L':'M')+xScale(c).toFixed(2)+' '+yScale(cutLineMag[i]).toFixed(2);
}).join(' '));

const tickGroup=document.getElementById('ticks');
xTickValues.forEach(function(v,i){
  const t=document.createElementNS(svgNS,'line');
  t.setAttribute('x1',xScale(v));
  t.setAttribute('x2',xScale(v));
  t.setAttribute('y1','773');
  t.setAttribute('y2','765');
  t.setAttribute('stroke','#000');
  t.setAttribute('stroke-width','1.8');
  
  
  tickGroup.appendChild(t);
  const l=document.createElementNS(svgNS,'text');
  l.setAttribute('x',xScale(v));
  l.setAttribute('y','808');
  l.setAttribute('text-anchor','middle');
  l.setAttribute('font-size','37');
  
  
  l.textContent=xTickLabels[i];
  tickGroup.appendChild(l);
});
yTickValues.forEach(function(v,i){
  const t=document.createElementNS(svgNS,'line');
  t.setAttribute('x1','128');
  t.setAttribute('x2','136');
  t.setAttribute('y1',yScale(v));
  t.setAttribute('y2',yScale(v));
  t.setAttribute('stroke','#000');
  t.setAttribute('stroke-width','1.8');
  
  
  tickGroup.appendChild(t);
  const l=document.createElementNS(svgNS,'text');
  l.setAttribute('x','119');
  l.setAttribute('y',yScale(v)+12.5);
  l.setAttribute('text-anchor','end');
  l.setAttribute('font-size','37');
  
  
  l.textContent=yTickLabels[i];
  tickGroup.appendChild(l);
});
</script>
</body>
</html>
